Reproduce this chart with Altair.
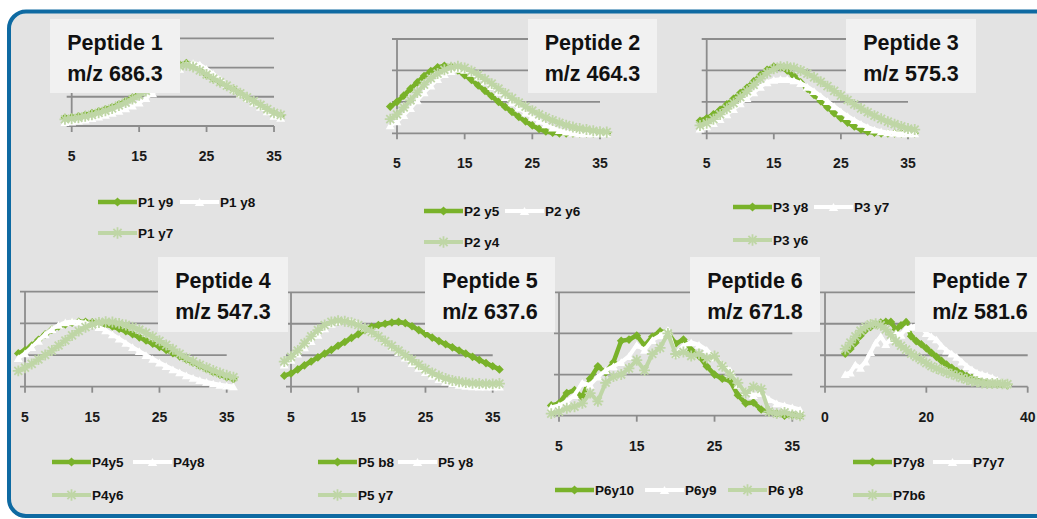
import altair as alt
import pandas as pd

# Retention-time points shared by every trace
RT = list(range(4, 37))

TICKS_A = [5, 15, 25, 35]
TICKS_B = [0, 20, 40]
GRID_LEVELS = [0, 1, 2, 3]

# Peptide 1
P1_Y9 = [0.28, 0.30, 0.33, 0.38, 0.44, 0.50, 0.57, 0.65, 0.74, 0.85, 0.97, 1.10, 1.25, 1.42, 1.60, 1.80, 1.98,
         2.10, 2.15, 2.10, 1.95, 1.75, 1.62, 1.50, 1.38, 1.25, 1.10, 0.95, 0.82, 0.68, 0.55, 0.42, 0.35]
P1_Y8 = [0.13, 0.15, 0.18, 0.22, 0.27, 0.32, 0.38, 0.45, 0.52, 0.60, 0.70, 0.80, 0.95, 1.12, 1.30, 1.52, 1.75,
         1.95, 2.10, 2.15, 2.10, 1.95, 1.78, 1.60, 1.42, 1.25, 1.10, 0.95, 0.80, 0.65, 0.50, 0.35, 0.28]
P1_Y7 = [0.23, 0.25, 0.28, 0.33, 0.38, 0.45, 0.52, 0.60, 0.70, 0.80, 0.92, 1.05, 1.20, 1.38, 1.58, 1.78, 1.95,
         2.05, 2.08, 2.02, 1.90, 1.76, 1.62, 1.50, 1.38, 1.25, 1.12, 0.98, 0.85, 0.72, 0.58, 0.45, 0.38]

# Peptide 2
P2_Y5 = [0.85, 1.00, 1.20, 1.42, 1.62, 1.82, 1.98, 2.10, 2.15, 2.12, 2.00, 1.85, 1.70, 1.52, 1.35, 1.18, 1.00,
         0.84, 0.68, 0.52, 0.38, 0.25, 0.14, 0.06, 0.02, 0.0, 0.0, 0.0, 0.0, 0.0, 0.0, 0.0, 0.0]
P2_Y6 = [0.25, 0.38, 0.58, 0.80, 1.05, 1.30, 1.52, 1.72, 1.88, 1.98, 2.05, 2.02, 1.92, 1.80, 1.65, 1.50, 1.32,
         1.15, 0.98, 0.82, 0.66, 0.52, 0.40, 0.28, 0.18, 0.10, 0.05, 0.02, 0.0, 0.0, 0.0, 0.0, 0.0]
P2_Y4 = [0.45, 0.60, 0.82, 1.05, 1.30, 1.55, 1.75, 1.90, 2.02, 2.10, 2.13, 2.08, 1.98, 1.86, 1.72, 1.58, 1.42,
         1.27, 1.12, 0.98, 0.85, 0.72, 0.60, 0.50, 0.41, 0.33, 0.26, 0.20, 0.15, 0.12, 0.08, 0.05, 0.04]

# Peptide 3
P3_Y8 = [0.40, 0.48, 0.60, 0.75, 0.92, 1.10, 1.28, 1.45, 1.65, 1.85, 2.02, 2.12, 2.10, 2.00, 1.82, 1.62, 1.42,
         1.22, 1.02, 0.82, 0.64, 0.48, 0.34, 0.22, 0.12, 0.05, 0.02, 0.0, 0.0, 0.0, 0.0, 0.0, 0.0]
P3_Y7 = [0.15, 0.22, 0.32, 0.45, 0.60, 0.77, 0.95, 1.12, 1.30, 1.48, 1.62, 1.70, 1.72, 1.72, 1.68, 1.60, 1.48,
         1.34, 1.18, 1.02, 0.86, 0.70, 0.55, 0.42, 0.30, 0.20, 0.12, 0.06, 0.03, 0.01, 0.0, 0.0, 0.0]
P3_Y6 = [0.25, 0.32, 0.45, 0.60, 0.78, 0.96, 1.15, 1.34, 1.54, 1.74, 1.92, 2.05, 2.12, 2.12, 2.08, 2.00, 1.90,
         1.78, 1.64, 1.50, 1.35, 1.20, 1.06, 0.92, 0.79, 0.67, 0.56, 0.46, 0.37, 0.29, 0.22, 0.15, 0.12]

# Peptide 4
P4_Y5 = [1.05, 1.15, 1.30, 1.48, 1.65, 1.80, 1.90, 1.97, 2.02, 2.05, 2.05, 2.03, 2.00, 1.96, 1.90, 1.83, 1.75,
         1.66, 1.56, 1.46, 1.36, 1.26, 1.16, 1.06, 0.96, 0.86, 0.76, 0.66, 0.56, 0.46, 0.38, 0.30, 0.24]
P4_Y8 = [0.90, 1.05, 1.25, 1.45, 1.65, 1.82, 1.95, 2.03, 2.06, 2.05, 2.02, 1.96, 1.88, 1.78, 1.65, 1.52, 1.38,
         1.25, 1.12, 1.00, 0.88, 0.76, 0.65, 0.55, 0.45, 0.36, 0.28, 0.21, 0.15, 0.10, 0.06, 0.03, 0.01]
P4_Y6 = [0.50, 0.60, 0.72, 0.86, 1.00, 1.14, 1.30, 1.46, 1.62, 1.76, 1.88, 1.97, 2.03, 2.05, 2.04, 2.00, 1.95,
         1.88, 1.80, 1.70, 1.58, 1.45, 1.32, 1.18, 1.04, 0.91, 0.80, 0.69, 0.60, 0.51, 0.43, 0.36, 0.30]

# Peptide 5
P5_B8 = [0.35, 0.42, 0.55, 0.68, 0.80, 0.93, 1.05, 1.17, 1.30, 1.42, 1.55, 1.67, 1.80, 1.90, 1.96, 2.00, 2.04,
         2.06, 2.02, 1.92, 1.80, 1.68, 1.56, 1.45, 1.35, 1.25, 1.15, 1.05, 0.95, 0.85, 0.75, 0.65, 0.55]
P5_Y8 = [0.70, 0.85, 1.05, 1.25, 1.45, 1.65, 1.85, 2.00, 2.08, 2.10, 2.08, 2.00, 1.88, 1.74, 1.60, 1.45, 1.28,
         1.10, 0.92, 0.75, 0.60, 0.46, 0.34, 0.24, 0.16, 0.10, 0.06, 0.03, 0.01, 0.0, 0.0, 0.0, 0.0]
P5_Y7 = [0.80, 0.95, 1.15, 1.38, 1.60, 1.80, 1.96, 2.06, 2.10, 2.08, 2.03, 1.96, 1.86, 1.74, 1.60, 1.45, 1.30,
         1.15, 1.00, 0.85, 0.70, 0.56, 0.44, 0.34, 0.26, 0.20, 0.16, 0.13, 0.11, 0.10, 0.09, 0.09, 0.10]

# Peptide 6
P6_Y10 = [0.25, 0.30, 0.55, 0.62, 0.45, 0.90, 1.20, 1.05, 1.30, 1.82, 1.85, 1.95, 1.70, 1.92, 2.05, 2.02, 1.75,
          1.85, 1.60, 1.45, 1.20, 1.00, 0.90, 0.85, 0.50, 0.30, 0.32, 0.15, 0.10, 0.05, 0.0, 0.02, 0.0]
P6_Y9 = [0.20, 0.25, 0.35, 0.50, 0.80, 0.75, 0.95, 1.10, 1.20, 1.30, 1.45, 1.72, 1.60, 1.84, 1.95, 2.08, 1.50,
         1.70, 1.78, 1.72, 1.60, 1.42, 1.25, 1.10, 0.75, 0.60, 0.50, 0.55, 0.40, 0.30, 0.25, 0.20, 0.15]
P6_Y8 = [0.05, 0.10, 0.18, 0.22, 0.30, 0.55, 0.35, 0.80, 0.95, 1.00, 1.15, 1.35, 1.10, 1.50, 1.65, 2.00, 1.50,
         1.55, 1.45, 1.50, 1.40, 1.45, 1.20, 1.00, 0.80, 0.55, 0.70, 0.65, 0.10, 0.05, 0.08, 0.02, 0.0]

# Peptide 7
P7_Y8 = [1.05, 1.20, 1.40, 1.62, 1.80, 1.90, 1.98, 2.04, 2.06, 2.06, 1.82, 1.95, 2.05, 1.60, 1.45, 1.35, 1.22,
         1.08, 0.95, 0.82, 0.70, 0.60, 0.50, 0.42, 0.34, 0.28, 0.22, 0.16, 0.12, 0.10, 0.10, 0.08, 0.05]
P7_Y7 = [0.40, 0.45, 0.70, 0.60, 0.80, 1.10, 1.40, 1.60, 1.35, 1.50, 1.70, 1.65, 1.85, 1.90, 1.95, 1.88, 1.70,
         1.60, 1.50, 1.30, 1.15, 1.05, 0.95, 0.80, 0.65, 0.55, 0.45, 0.40, 0.35, 0.30, 0.22, 0.15, 0.10]
P7_B6 = [1.20, 1.40, 1.60, 1.78, 1.90, 1.98, 2.00, 1.95, 1.82, 1.65, 1.45, 1.30, 1.18, 1.05, 0.95, 0.85, 0.75,
         0.65, 0.58, 0.52, 0.45, 0.40, 0.34, 0.28, 0.22, 0.18, 0.15, 0.12, 0.10, 0.10, 0.10, 0.09, 0.08]

PANELS = [
    {"title": "Peptide 1", "mz": "m/z 686.3", "xdom": [5, 35], "ticks": TICKS_A,
     "labels": ["P1 y9", "P1 y8", "P1 y7"], "series": [P1_Y9, P1_Y8, P1_Y7]},
    {"title": "Peptide 2", "mz": "m/z 464.3", "xdom": [5, 35], "ticks": TICKS_A,
     "labels": ["P2 y5", "P2 y6", "P2 y4"], "series": [P2_Y5, P2_Y6, P2_Y4]},
    {"title": "Peptide 3", "mz": "m/z 575.3", "xdom": [5, 35], "ticks": TICKS_A,
     "labels": ["P3 y8", "P3 y7", "P3 y6"], "series": [P3_Y8, P3_Y7, P3_Y6]},
    {"title": "Peptide 4", "mz": "m/z 547.3", "xdom": [5, 35], "ticks": TICKS_A,
     "labels": ["P4y5", "P4y8", "P4y6"], "series": [P4_Y5, P4_Y8, P4_Y6]},
    {"title": "Peptide 5", "mz": "m/z 637.6", "xdom": [5, 35], "ticks": TICKS_A,
     "labels": ["P5 b8", "P5 y8", "P5 y7"], "series": [P5_B8, P5_Y8, P5_Y7]},
    {"title": "Peptide 6", "mz": "m/z 671.8", "xdom": [5, 35], "ticks": TICKS_A,
     "labels": ["P6y10", "P6y9", "P6 y8"], "series": [P6_Y10, P6_Y9, P6_Y8]},
    {"title": "Peptide 7", "mz": "m/z 581.6", "xdom": [0, 40], "ticks": TICKS_B,
     "labels": ["P7y8", "P7y7", "P7b6"], "series": [P7_Y8, P7_Y7, P7_B6]},
]

# Placement of each small chart on the page (pixels): x range of the axis,
# y pixel of level 0 and level 3, caption box, legend columns and rows.
GEOM = [
    dict(xr=(71.7, 274.0), yr=(126.0, 38.3), box=(50, 19, 180, 93), cols=[98, 180], rows=[202, 233]),
    dict(xr=(397.0, 600.0), yr=(133.3, 39.0), box=(528, 19, 657, 93), cols=[424, 505], rows=[211, 242]),
    dict(xr=(706.7, 908.0), yr=(133.3, 39.0), box=(846, 19, 976, 93), cols=[733, 814], rows=[207, 240]),
    dict(xr=(25.0, 226.7), yr=(386.7, 291.7), box=(158, 257, 288, 332), cols=[52, 133], rows=[462, 495]),
    dict(xr=(291.0, 492.7), yr=(386.7, 292.3), box=(425, 257, 555, 332), cols=[318, 398], rows=[462, 495]),
    dict(xr=(559.0, 792.3), yr=(415.7, 292.3), box=(690, 257, 820, 332), cols=[555, 645, 728], rows=[490]),
    dict(xr=(825.0, 1027.7), yr=(386.7, 292.3), box=(915, 257, 1045, 332), cols=[853, 933], rows=[462, 495]),
]

FONT = "Liberation Sans"
DARK = "#79b22a"
WHITE = "#ffffff"
LIGHT = "#bfd6a6"
GRID = "#8c8c8c"
PANEL_BG = "#e3e3e3"
BOX_BG = "#f1f1f1"
FRAME = "#0e6aa2"
ASTERISK = "M-1,0L1,0M0,-1L0,1M-0.72,-0.72L0.72,0.72M-0.72,0.72L0.72,-0.72"

STYLES = [
    dict(color=DARK, shape="diamond", filled=True, size=75, width=4.5),
    dict(color=WHITE, shape="triangle-up", filled=True, size=80, width=4),
    dict(color=LIGHT, shape=ASTERISK, filled=False, size=120, width=4),
]

layers = []

# page frame
layers.append(
    alt.Chart(pd.DataFrame({"k": [0]})).mark_rect(
        fill=PANEL_BG, stroke=FRAME, strokeWidth=4, cornerRadius=17
    ).encode(x=alt.value(9), x2=alt.value(1052), y=alt.value(11.5), y2=alt.value(516))
)

for p, g in zip(PANELS, GEOM):
    xs = alt.Scale(domain=p["xdom"], range=list(g["xr"]), nice=False, zero=False)
    ys = alt.Scale(domain=[0, 3], range=list(g["yr"]), nice=False, zero=False)
    lo, hi = p["xdom"]

    grid = pd.DataFrame({"lvl": GRID_LEVELS, "lo": lo, "hi": hi})
    layers.append(
        alt.Chart(grid).mark_rule(color=GRID, strokeWidth=1.8, xOffset=-5).encode(
            x=alt.X("lo:Q", scale=xs, axis=None), x2="hi:Q",
            y=alt.Y("lvl:Q", scale=ys, axis=None))
    )
    yaxis = pd.DataFrame({"x": [lo], "a": [0], "b": [3]})
    layers.append(
        alt.Chart(yaxis).mark_rule(color=GRID, strokeWidth=1.8).encode(
            x=alt.X("x:Q", scale=xs, axis=None),
            y=alt.Y("a:Q", scale=ys, axis=None), y2="b:Q")
    )
    ticks = pd.DataFrame({"t": p["ticks"], "base": 0, "lab": [str(t) for t in p["ticks"]]})
    layers.append(
        alt.Chart(ticks).mark_rule(color=GRID, strokeWidth=1.8, y2Offset=6).encode(
            x=alt.X("t:Q", scale=xs, axis=None),
            y=alt.Y("base:Q", scale=ys, axis=None), y2="base:Q")
    )
    layers.append(
        alt.Chart(ticks).mark_text(font=FONT, fontSize=14, fontWeight="bold", color="#1a1a1a",
                                   dy=35, baseline="alphabetic", align="center").encode(
            x=alt.X("t:Q", scale=xs, axis=None),
            y=alt.Y("base:Q", scale=ys, axis=None), text="lab:N")
    )

    for vals, st in zip(p["series"], STYLES):
        trace = pd.DataFrame({"rt": RT, "v": vals})
        enc = dict(x=alt.X("rt:Q", scale=xs, axis=None), y=alt.Y("v:Q", scale=ys, axis=None))
        layers.append(
            alt.Chart(trace).mark_line(color=st["color"], strokeWidth=st["width"]).encode(**enc)
        )
        if st["filled"]:
            pt = alt.Chart(trace).mark_point(shape=st["shape"], filled=True, size=st["size"],
                                             color=st["color"], opacity=1)
        else:
            pt = alt.Chart(trace).mark_point(shape=st["shape"], filled=False, size=st["size"],
                                             color=st["color"], strokeWidth=1.8, opacity=1)
        layers.append(pt.encode(**enc))

# caption boxes and their two-line titles
boxes = pd.DataFrame({
    "x1": [g["box"][0] for g in GEOM], "y1": [g["box"][1] for g in GEOM],
    "x2": [g["box"][2] for g in GEOM], "y2": [g["box"][3] for g in GEOM],
    "cx": [(g["box"][0] + g["box"][2]) / 2 for g in GEOM],
    "title": [p["title"] for p in PANELS], "mz": [p["mz"] for p in PANELS],
})
layers.append(
    alt.Chart(boxes).mark_rect(fill=BOX_BG).encode(
        x=alt.X("x1:Q", scale=None, axis=None), x2="x2:Q",
        y=alt.Y("y1:Q", scale=None, axis=None), y2="y2:Q")
)
for col, off in (("title", 31), ("mz", 62)):
    layers.append(
        alt.Chart(boxes).transform_calculate(ty=f"datum.y1 + {off}").mark_text(
            font=FONT, fontSize=21.5, fontWeight="bold", color="#111111",
            align="center", baseline="alphabetic").encode(
            x=alt.X("cx:Q", scale=None, axis=None),
            y=alt.Y("ty:Q", scale=None, axis=None), text=f"{col}:N")
    )

# legends
SAMPLE = 39
leg_rows = []
for p, g in zip(PANELS, GEOM):
    cols, rows = g["cols"], g["rows"]
    if len(cols) == 3:
        spots = [(cols[0], rows[0]), (cols[1], rows[0]), (cols[2], rows[0])]
    else:
        spots = [(cols[0], rows[0]), (cols[1], rows[0]), (cols[0], rows[1])]
    for k, ((lx, ly), lab) in enumerate(zip(spots, p["labels"])):
        leg_rows.append({"k": k, "x1": lx, "x2": lx + SAMPLE, "xm": lx + SAMPLE / 2,
                         "y": ly, "lab": lab})
leg = pd.DataFrame(leg_rows)

for k, st in enumerate(STYLES):
    sub = alt.Chart(leg).transform_filter(f"datum.k == {k}")
    layers.append(
        sub.mark_rule(color=st["color"], strokeWidth=st["width"]).encode(
            x=alt.X("x1:Q", scale=None, axis=None), x2="x2:Q",
            y=alt.Y("y:Q", scale=None, axis=None))
    )
    if st["filled"]:
        m = sub.mark_point(shape=st["shape"], filled=True, size=st["size"] + 10,
                           color=st["color"], opacity=1)
    else:
        m = sub.mark_point(shape=st["shape"], filled=False, size=st["size"] + 10,
                           color=st["color"], strokeWidth=1.8, opacity=1)
    layers.append(m.encode(x=alt.X("xm:Q", scale=None, axis=None),
                           y=alt.Y("y:Q", scale=None, axis=None)))

layers.append(
    alt.Chart(leg).transform_calculate(ty="datum.y + 5", tx="datum.x2 + 1").mark_text(
        font=FONT, fontSize=13.5, fontWeight="bold", color="#111111",
        align="left", baseline="alphabetic").encode(
        x=alt.X("tx:Q", scale=None, axis=None),
        y=alt.Y("ty:Q", scale=None, axis=None), text="lab:N")
)

chart = alt.layer(*layers).resolve_scale(
    x="independent", y="independent"
).properties(
    width=1037, height=519,
    autosize=alt.AutoSizeParams(type="none"),
    padding=0, background="#ffffff",
).configure_view(stroke=None)

chart.save("out.html", embed_options={"renderer": "svg", "actions": False})
